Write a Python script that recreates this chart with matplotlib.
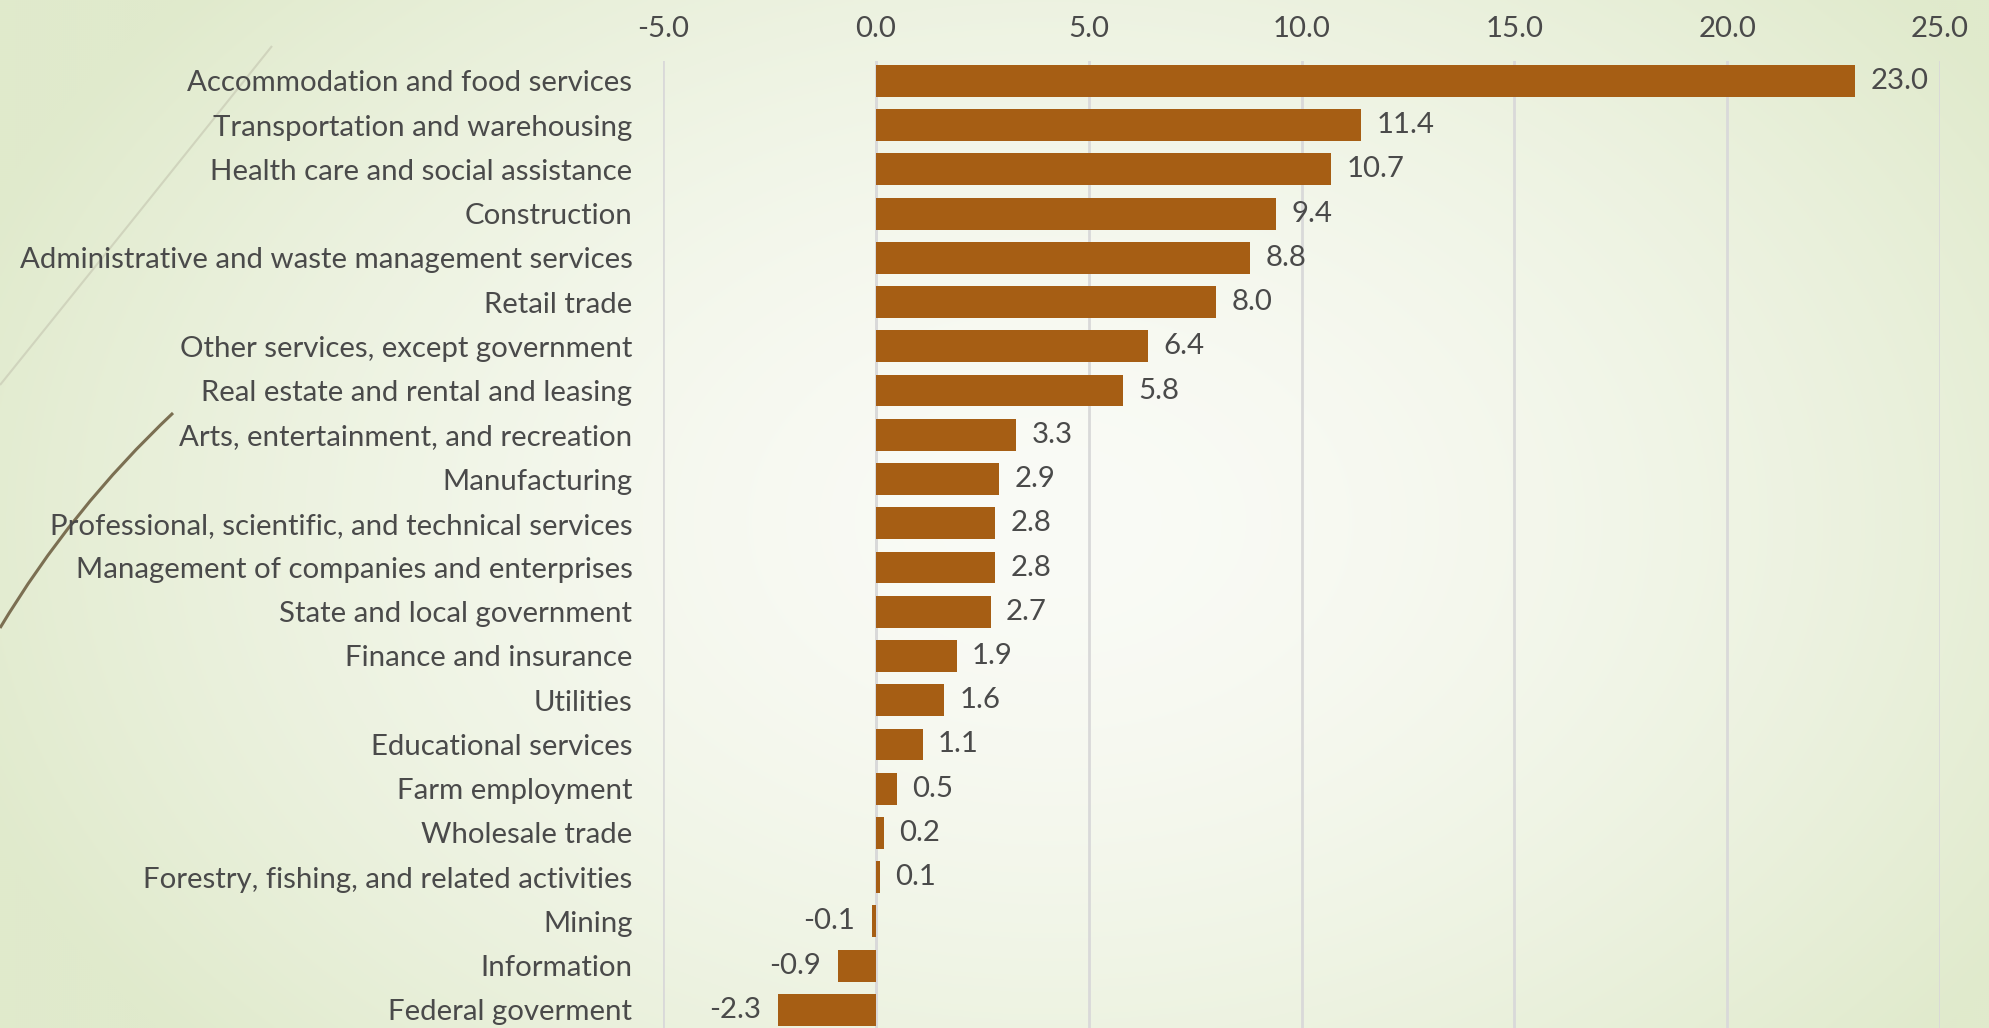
import numpy as np
import matplotlib.pyplot as plt
from matplotlib.path import Path
from matplotlib.patches import PathPatch

industries = [
    "Accommodation and food services",
    "Transportation and warehousing",
    "Health care and social assistance",
    "Construction",
    "Administrative and waste management services",
    "Retail trade",
    "Other services, except government",
    "Real estate and rental and leasing",
    "Arts, entertainment, and recreation",
    "Manufacturing",
    "Professional, scientific, and technical services",
    "Management of companies and enterprises",
    "State and local government",
    "Finance and insurance",
    "Utilities",
    "Educational services",
    "Farm employment",
    "Wholesale trade",
    "Forestry, fishing, and related activities",
    "Mining",
    "Information",
    "Federal goverment",
]
growth = [23.0, 11.4, 10.7, 9.4, 8.8, 8.0, 6.4, 5.8, 3.3, 2.9, 2.8, 2.8,
          2.7, 1.9, 1.6, 1.1, 0.5, 0.2, 0.1, -0.1, -0.9, -2.3]
xticks = [-5, 0, 5, 10, 15, 20, 25]

W, H = 1989, 1028
plt.rcParams['font.family'] = ['Lato', 'DejaVu Sans']
txt = '#4a4a4a'
fs = 21.2

fig = plt.figure(figsize=(W / 100, H / 100), dpi=100)

# background gradient
bg = fig.add_axes([0, 0, 1, 1], zorder=-5)
yy, xx = np.mgrid[0:H:2, 0:W:2]
d = np.sqrt(((xx - 1050) / 1150.0) ** 2 + ((yy - 520) / 800.0) ** 2)
d = np.clip(d, 0, 1) ** 1.6
c0 = np.array([250, 251, 246]) / 255.0
c1 = np.array([224, 234, 204]) / 255.0
img = c0[None, None, :] * (1 - d[..., None]) + c1[None, None, :] * d[..., None]
bg.imshow(img, extent=[0, W, H, 0], aspect='auto')
bg.set_xlim(0, W)
bg.set_ylim(H, 0)
bg.axis('off')

# decorative curves
light = Path([(272, 46), (145, 205), (0, 385)], [Path.MOVETO, Path.CURVE3, Path.CURVE3])
bg.add_patch(PathPatch(light, fill=False, edgecolor='#d0d4bd', lw=1.5))
dark = Path([(173, 413), (72, 508), (0, 628)], [Path.MOVETO, Path.CURVE3, Path.CURVE3])
bg.add_patch(PathPatch(dark, fill=False, edgecolor='#7b6f52', lw=2.2))

ax = fig.add_axes([663 / W, 0, (1940 - 663) / W, 1 - 61 / H])
ax.patch.set_alpha(0)
y = np.arange(len(industries))
ax.barh(y, growth, height=0.72, color='#a65e14', zorder=3)
ax.set_xlim(-5, 25)
ax.set_ylim(len(industries) - 0.59, -0.45)
ax.set_xticks(xticks)
ax.set_xticklabels([f"{v:.1f}" for v in xticks])
ax.xaxis.tick_top()
ax.set_yticks(y)
ax.set_yticklabels(industries)
ax.tick_params(axis='x', length=0, pad=14, labelsize=fs, labelcolor=txt)
ax.tick_params(axis='y', length=0, pad=22, labelsize=fs, labelcolor=txt)
ax.grid(axis='x', color='#d9d9d9', lw=2, zorder=0)
for s in ax.spines.values():
    s.set_visible(False)
ax.axvline(0, color='#d9d9d9', lw=2, zorder=1)

for yi, v in zip(y, growth):
    if v >= 0:
        ax.annotate(f"{v:.1f}", (v, yi), xytext=(11, 0), textcoords='offset points',
                    va='center', ha='left', fontsize=fs, color=txt)
    else:
        ax.annotate(f"{v:.1f}", (v, yi), xytext=(-12, 0), textcoords='offset points',
                    va='center', ha='right', fontsize=fs, color=txt)

fig.savefig('out.png', dpi=100)
